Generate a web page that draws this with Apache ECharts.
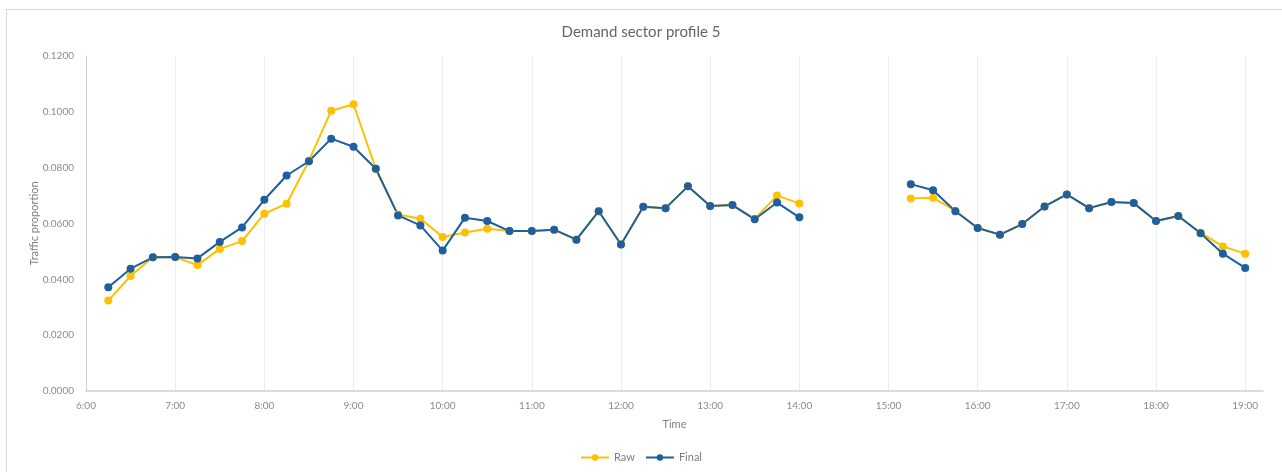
<!DOCTYPE html>
<html>
<head>
<meta charset="utf-8">
<script src="https://cdn.jsdelivr.net/npm/echarts@6/dist/echarts.min.js"></script>
<style>
  html, body { margin: 0; padding: 0; background: #fff; }
  #frame { position: absolute; left: 6px; top: 9px; width: 1290px; height: 480px; border: 1px solid #d9d9d9; }
  #myChart { position: absolute; left: 0; top: 0; width: 1282px; height: 472px; }
</style>
</head>
<body>
<div id="frame"></div>
<div id="myChart"></div>
<script>
// 15-minute time slots (null values = no data)
const times = [
  "6:15", "6:30", "6:45", "7:00", "7:15", "7:30", "7:45", "8:00",
  "8:15", "8:30", "8:45", "9:00", "9:15", "9:30", "9:45", "10:00",
  "10:15", "10:30", "10:45", "11:00", "11:15", "11:30", "11:45", "12:00",
  "12:15", "12:30", "12:45", "13:00", "13:15", "13:30", "13:45", "14:00",
  "14:15", "14:30", "14:45", "15:00",
  "15:15", "15:30", "15:45", "16:00", "16:15", "16:30", "16:45", "17:00",
  "17:15", "17:30", "17:45", "18:00", "18:15", "18:30", "18:45", "19:00"
];
const raw = [
  0.0324, 0.0412, 0.0479, 0.0480, 0.0451, 0.0509, 0.0537, 0.0635,
  0.0671, 0.0825, 0.1004, 0.1027, 0.0796, 0.0632, 0.0617, 0.0552,
  0.0568, 0.0581, 0.0573, 0.0573, 0.0578, 0.0542, 0.0644, 0.0525,
  0.0660, 0.0655, 0.0733, 0.0663, 0.0666, 0.0617, 0.0700, 0.0672,
  null, null, null, null,
  0.0690, 0.0692, 0.0646, 0.0584, 0.0560, 0.0598, 0.0661, 0.0704,
  0.0655, 0.0677, 0.0673, 0.0609, 0.0627, 0.0567, 0.0518, 0.0492
];
const final = [
  0.0372, 0.0438, 0.0479, 0.0480, 0.0475, 0.0534, 0.0586, 0.0685,
  0.0772, 0.0823, 0.0904, 0.0875, 0.0796, 0.0629, 0.0593, 0.0503,
  0.0621, 0.0609, 0.0573, 0.0573, 0.0578, 0.0542, 0.0644, 0.0525,
  0.0660, 0.0655, 0.0733, 0.0663, 0.0666, 0.0615, 0.0675, 0.0622,
  null, null, null, null,
  0.0741, 0.0719, 0.0644, 0.0584, 0.0560, 0.0598, 0.0661, 0.0704,
  0.0655, 0.0677, 0.0673, 0.0609, 0.0627, 0.0565, 0.0492, 0.0441
];

function toHours(t) {
  const p = t.split(":");
  return Number(p[0]) + Number(p[1]) / 60;
}
function pairs(values) {
  return times.map((t, i) => [toHours(t), values[i] === null ? "-" : values[i]]);
}

const font = "Lato, 'Open Sans', sans-serif";
const grey = "#8c8c8c";

let ECharts = echarts.init(document.getElementById("myChart"));
ECharts.setOption({
  backgroundColor: "transparent",
  animation: false,
  title: {
    text: "Demand sector profile 5",
    left: "center",
    top: 20,
    textStyle: { fontFamily: font, fontSize: 15, fontWeight: "normal", color: "#666666" }
  },
  legend: {
    bottom: 4,
    left: "center",
    itemWidth: 28,
    itemHeight: 8,
    itemGap: 10,
    textStyle: { fontFamily: font, fontSize: 11, color: "#7f7f7f" },
    data: ["Raw", "Final"]
  },
  grid: { left: 86, right: 19, top: 56, bottom: 81 },
  xAxis: {
    type: "value",
    min: 6,
    max: 19.2,
    interval: 1,
    name: "Time",
    nameLocation: "middle",
    nameGap: 28,
    nameTextStyle: { fontFamily: font, fontSize: 11, color: "#7f7f7f" },
    axisLine: { lineStyle: { color: "#d0d0d0", width: 1.5 } },
    axisTick: { show: false },
    axisLabel: {
      fontFamily: font, fontSize: 10, color: grey, margin: 10,
      showMaxLabel: false,
      formatter: v => (Number.isInteger(v) ? v + ":00" : "")
    },
    splitLine: {
      show: true,
      lineStyle: {
        color: ["rgba(0,0,0,0)", "#ececec", "#ececec", "#ececec", "#ececec", "#ececec",
                "#ececec", "#ececec", "#ececec", "#ececec", "#ececec", "#ececec",
                "#ececec", "#ececec", "rgba(0,0,0,0)"],
        width: 1
      }
    }
  },
  yAxis: {
    type: "value",
    min: 0,
    max: 0.12,
    interval: 0.02,
    name: "Traffic proportion",
    nameLocation: "middle",
    nameGap: 46,
    nameMoveOverlap: false,
    nameTextStyle: { fontFamily: font, fontSize: 11, color: "#7f7f7f" },
    axisLine: { show: true, lineStyle: { color: "#d0d0d0", width: 1 } },
    axisTick: { show: false },
    axisLabel: {
      fontFamily: font, fontSize: 10, color: grey, margin: 12,
      formatter: v => v.toFixed(4)
    },
    splitLine: { show: false }
  },
  series: [
    {
      name: "Raw",
      type: "line",
      data: pairs(raw),
      symbol: "circle",
      symbolSize: 8,
      connectNulls: false,
      itemStyle: { color: "#FFC000" },
      lineStyle: { color: "#FFC000", width: 2 }
    },
    {
      name: "Final",
      type: "line",
      data: pairs(final),
      symbol: "circle",
      symbolSize: 8,
      connectNulls: false,
      itemStyle: { color: "#1f5fa0" },
      lineStyle: { color: "#1f5fa0", width: 2 }
    }
  ]
});
</script>
</body>
</html>
